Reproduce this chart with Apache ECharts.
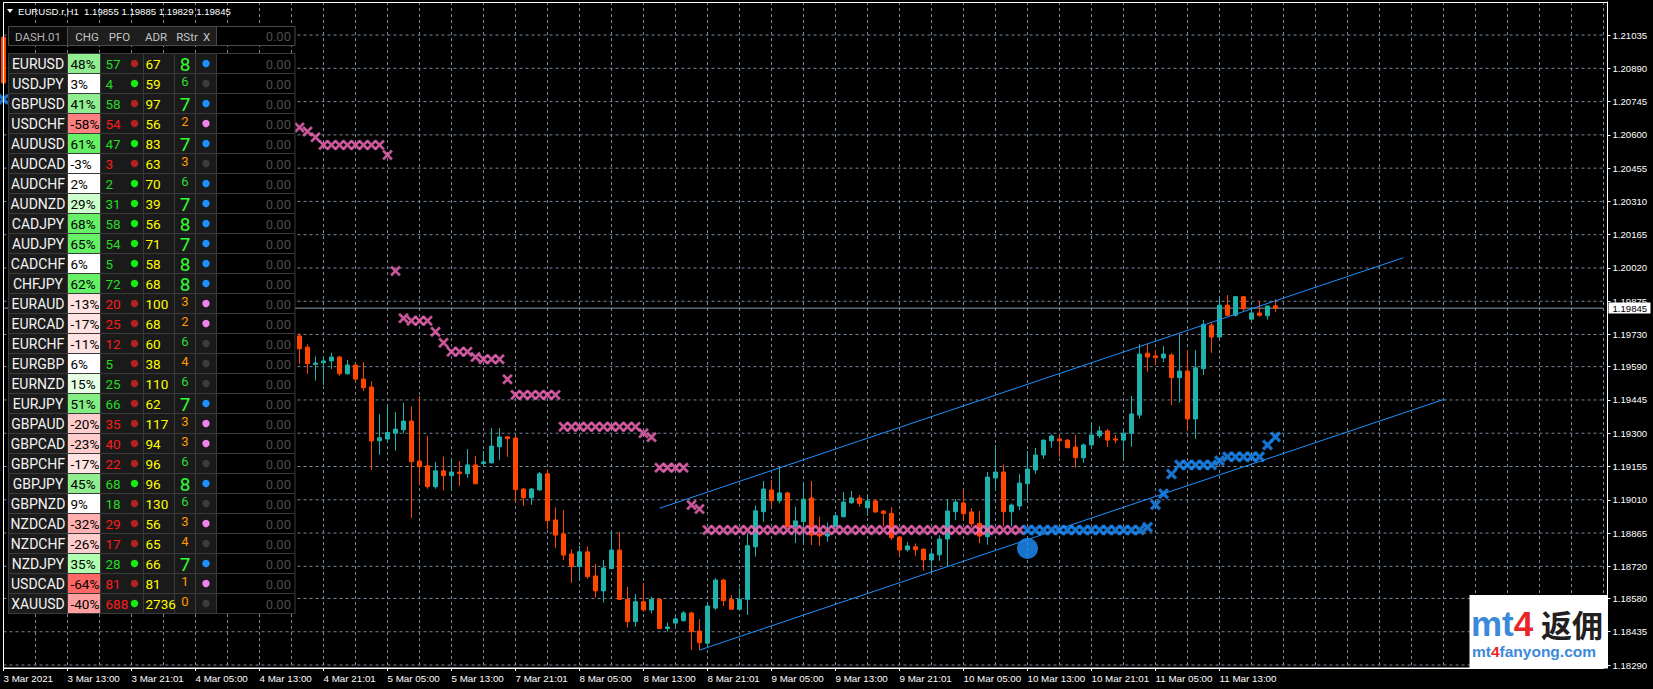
<!DOCTYPE html>
<html><head><meta charset="utf-8">
<script src="https://cdn.jsdelivr.net/npm/echarts@6/dist/echarts.min.js"></script>
<style>html,body{margin:0;padding:0;background:#000;}#c{width:1653px;height:689px;}</style>
</head><body><div id="c"></div>
<script>
// ---------------- DATA ----------------
const chartSymbol = 'EURUSD.r';
const timeframe = 'H1';
const timeLabels = ['3 Mar 2021','3 Mar 13:00','3 Mar 21:01','4 Mar 05:00','4 Mar 13:00','4 Mar 21:01','5 Mar 05:00','5 Mar 13:00','7 Mar 21:01','8 Mar 05:00','8 Mar 13:00','8 Mar 21:01','9 Mar 05:00','9 Mar 13:00','9 Mar 21:01','10 Mar 05:00','10 Mar 13:00','10 Mar 21:01','11 Mar 05:00','11 Mar 13:00'];
const priceTicks = [1.21035,1.20890,1.20745,1.20600,1.20455,1.20310,1.20165,1.20020,1.19875,1.19730,1.19590,1.19445,1.19300,1.19155,1.19010,1.18865,1.18720,1.18580,1.18435,1.18290];
const priceMin = 1.18277, priceMax = 1.21179;

// bar 0 (only its body is visible at the left edge): open, close
const leftEdgeBar = [1.21026, 1.20826];
// visible bars start at bar index 37 and run to bar 159
const firstVisibleBar = 37;
const barOpen = [1.19724,1.19675,1.19600,1.19607,1.19615,1.19632,1.19559,1.19597,1.19536,1.19501,1.19267,1.19275,1.19300,1.19315,1.19353,1.19179,1.19158,1.19067,1.19136,1.19115,1.19131,1.19124,1.19162,1.19168,1.19171,1.19241,1.19284,1.19279,1.19057,1.19019,1.19053,1.19123,1.18922,1.18862,1.18774,1.18719,1.18783,1.18678,1.18613,1.18710,1.18791,1.18576,1.18479,1.18566,1.18530,1.18576,1.18449,1.18473,1.18483,1.18517,1.18438,1.18385,1.18538,1.18660,1.18576,1.18533,1.18576,1.18805,1.18958,1.19053,1.19006,1.19040,1.18893,1.18915,1.19018,1.18861,1.18852,1.18893,1.18936,1.18997,1.19018,1.18975,1.19005,1.18961,1.18951,1.18848,1.18792,1.18805,1.18795,1.18748,1.18770,1.18839,1.18958,1.18996,1.18957,1.18907,1.18849,1.19105,1.19131,1.18958,1.18983,1.19080,1.19140,1.19205,1.19267,1.19275,1.19270,1.19240,1.19193,1.19249,1.19289,1.19310,1.19275,1.19270,1.19300,1.19379,1.19649,1.19637,1.19628,1.19641,1.19542,1.19571,1.19362,1.19581,1.19771,1.19719,1.19858,1.19814,1.19895,1.19797,1.19824,1.19812,1.19855];
const barHigh = [1.19736,1.19688,1.19634,1.19637,1.19651,1.19637,1.19619,1.19600,1.19610,1.19527,1.19384,1.19427,1.19392,1.19433,1.19416,1.19462,1.19288,1.19175,1.19198,1.19192,1.19179,1.19231,1.19201,1.19223,1.19323,1.19323,1.19288,1.19284,1.19060,1.19062,1.19131,1.19143,1.18977,1.18965,1.18795,1.18809,1.18805,1.18730,1.18748,1.18878,1.18870,1.18630,1.18599,1.18647,1.18587,1.18580,1.18475,1.18498,1.18525,1.18522,1.18490,1.18559,1.18669,1.18666,1.18595,1.18626,1.18864,1.18985,1.19092,1.19096,1.19154,1.19045,1.18980,1.19088,1.19092,1.18936,1.18911,1.18953,1.19044,1.19048,1.19031,1.19031,1.19013,1.18965,1.18978,1.18850,1.18827,1.18820,1.18798,1.18798,1.18856,1.19013,1.19013,1.19053,1.18974,1.18961,1.19131,1.19249,1.19164,1.18994,1.19122,1.19223,1.19236,1.19272,1.19295,1.19295,1.19275,1.19292,1.19256,1.19346,1.19331,1.19317,1.19292,1.19321,1.19462,1.19688,1.19688,1.19663,1.19680,1.19649,1.19732,1.19663,1.19663,1.19793,1.19784,1.19894,1.19902,1.19898,1.19898,1.19851,1.19876,1.19856,1.19885];
const barLow = [1.19602,1.19559,1.19529,1.19510,1.19580,1.19550,1.19555,1.19525,1.19484,1.19140,1.19206,1.19258,1.19224,1.19300,1.18930,1.19075,1.19058,1.19058,1.19050,1.19050,1.19071,1.19106,1.19078,1.19158,1.19168,1.19184,1.19197,1.19002,1.18984,1.18988,1.19050,1.18883,1.18800,1.18748,1.18648,1.18656,1.18666,1.18584,1.18562,1.18708,1.18574,1.18453,1.18457,1.18522,1.18515,1.18446,1.18436,1.18451,1.18480,1.18355,1.18355,1.18370,1.18530,1.18547,1.18530,1.18527,1.18508,1.18762,1.18914,1.18974,1.18994,1.18890,1.18821,1.18821,1.18813,1.18810,1.18827,1.18890,1.18933,1.18992,1.18979,1.18940,1.18953,1.18893,1.18835,1.18762,1.18784,1.18766,1.18701,1.18690,1.18744,1.18719,1.18922,1.18922,1.18893,1.18821,1.18814,1.19048,1.18893,1.18893,1.18965,1.19009,1.19122,1.19188,1.19237,1.19197,1.19234,1.19150,1.19171,1.19233,1.19279,1.19240,1.19256,1.19184,1.19241,1.19363,1.19568,1.19597,1.19610,1.19423,1.19433,1.19310,1.19275,1.19554,1.19650,1.19716,1.19811,1.19808,1.19833,1.19795,1.19808,1.19795,1.19829];
const barClose = [1.19668,1.19603,1.19606,1.19615,1.19632,1.19559,1.19597,1.19536,1.19498,1.19266,1.19280,1.19303,1.19318,1.19353,1.19176,1.19154,1.19067,1.19136,1.19115,1.19131,1.19124,1.19162,1.19080,1.19175,1.19244,1.19284,1.19277,1.19054,1.19019,1.19057,1.19123,1.18919,1.18856,1.18769,1.18719,1.18783,1.18675,1.18613,1.18713,1.18791,1.18576,1.18479,1.18566,1.18530,1.18576,1.18449,1.18456,1.18491,1.18517,1.18436,1.18387,1.18547,1.18660,1.18570,1.18533,1.18576,1.18810,1.18962,1.19057,1.19006,1.19040,1.18893,1.18918,1.19013,1.18856,1.18852,1.18861,1.18940,1.19000,1.19018,1.18994,1.19005,1.18957,1.18951,1.18845,1.18791,1.18809,1.18792,1.18748,1.18774,1.18839,1.18961,1.19000,1.18949,1.18905,1.18852,1.19109,1.19131,1.18958,1.18987,1.19083,1.19144,1.19205,1.19270,1.19288,1.19267,1.19237,1.19193,1.19249,1.19292,1.19310,1.19270,1.19270,1.19300,1.19384,1.19645,1.19632,1.19629,1.19645,1.19542,1.19571,1.19362,1.19585,1.19774,1.19719,1.19858,1.19814,1.19895,1.19842,1.19824,1.19814,1.19854,1.19845];

// indicator markers
const pinkBars   = [37,38,39,40,41,42,43,44,45,46,47,48,49,50,51,52,53,54,55,56,57,58,59,60,61,62,63,64,65,66,67,68,69,70,71,72,73,74,75,76,77,78,79,80,81,82,83,84,85,86,87,88,89,90,91,92,93,94,95,96,97,98,99,100,101,102,103,104,105,106,107,108,109,110,111,112,113,114,115,116,117,118,119,120,121,122,123,124,125,126,127];
const pinkPrices = [1.20632,1.20615,1.20590,1.20556,1.20556,1.20556,1.20556,1.20556,1.20556,1.20556,1.20556,1.20512,1.20007,1.19801,1.19790,1.19790,1.19790,1.19742,1.19694,1.19655,1.19655,1.19655,1.19632,1.19622,1.19622,1.19622,1.19535,1.19467,1.19467,1.19467,1.19467,1.19467,1.19467,1.19328,1.19328,1.19328,1.19328,1.19328,1.19328,1.19328,1.19328,1.19328,1.19328,1.19300,1.19283,1.19150,1.19150,1.19150,1.19150,1.18987,1.18970,1.18878,1.18878,1.18878,1.18878,1.18878,1.18878,1.18878,1.18878,1.18878,1.18878,1.18878,1.18878,1.18878,1.18878,1.18878,1.18878,1.18878,1.18878,1.18878,1.18878,1.18878,1.18878,1.18878,1.18878,1.18878,1.18878,1.18878,1.18878,1.18878,1.18878,1.18878,1.18878,1.18878,1.18878,1.18878,1.18878,1.18878,1.18878,1.18878,1.18878];
const blueBars   = [0,128,129,130,131,132,133,134,135,136,137,138,139,140,141,142,143,144,145,146,147,148,149,150,151,152,153,154,155,156,157,158,159];
const bluePrices = [1.20755,1.18878,1.18878,1.18878,1.18878,1.18878,1.18878,1.18878,1.18878,1.18878,1.18878,1.18878,1.18878,1.18878,1.18878,1.18878,1.18890,1.18988,1.19036,1.19122,1.19162,1.19162,1.19162,1.19162,1.19162,1.19180,1.19197,1.19197,1.19197,1.19197,1.19197,1.19249,1.19284];
const signalDot = [128, 1.18798];
const channelUpper = [[82, 1.18973], [175, 1.20065]];
const channelLower = [[87, 1.18355], [180, 1.19447]];

// dashboard
const dashName = 'DASH.01';
const dashHeaders = ['CHG','PFO','ADR','RStr','X'];
const symbols = ['EURUSD','USDJPY','GBPUSD','USDCHF','AUDUSD','AUDCAD','AUDCHF','AUDNZD','CADJPY','AUDJPY','CADCHF','CHFJPY','EURAUD','EURCAD','EURCHF','EURGBP','EURNZD','EURJPY','GBPAUD','GBPCAD','GBPCHF','GBPJPY','GBPNZD','NZDCAD','NZDCHF','NZDJPY','USDCAD','XAUUSD'];
const chgPct = [48,3,41,-58,61,-3,2,29,68,65,6,62,-13,-17,-11,6,15,51,-20,-23,-17,45,9,-32,-26,35,-64,-40];
const pfo = [57,4,58,54,47,3,2,31,58,54,5,72,20,25,12,5,25,66,35,40,22,68,18,29,17,28,81,688];
const pfoSignal = ['dn','up','dn','dn','up','dn','up','up','up','up','up','up','dn','dn','dn','dn','dn','dn','dn','dn','dn','up','dn','dn','dn','up','dn','up'];
const adr = [67,59,97,56,83,63,70,39,56,71,58,68,100,68,60,38,110,62,117,94,96,96,130,56,65,66,81,2736];
const rstr = [8,6,7,2,7,3,6,7,8,7,8,8,3,2,6,4,6,7,3,3,6,8,6,3,4,7,1,0];
const xState = ['up','flat','up','down','up','flat','up','up','up','up','up','up','down','down','flat','flat','flat','up','down','down','flat','up','flat','down','flat','up','down','flat'];
const pnl = [0,0,0,0,0,0,0,0,0,0,0,0,0,0,0,0,0,0,0,0,0,0,0,0,0,0,0,0];
const headerPnl = 0;

// ---------------- BUILD ----------------
const slotCount = 201;
const categories = Array.from({length: slotCount}, (_, i) => String(i));
const lastSlot = slotCount - 1;
const lastIdx = firstVisibleBar + barClose.length - 1;
const candleData = categories.map((_, i) => {
  if (i === 0) return [leftEdgeBar[0], leftEdgeBar[1], leftEdgeBar[1], leftEdgeBar[0]];
  if (i >= firstVisibleBar && i <= lastIdx) {
    const k = i - firstVisibleBar;
    return [barOpen[k], barClose[k], barLow[k], barHigh[k]];
  }
  return '-';
});
const lastClose = barClose[barClose.length - 1];
const lastO = barOpen[barOpen.length-1], lastH = barHigh[barHigh.length-1], lastL = barLow[barLow.length-1];

const xPath = 'path://M0,1.7 L1.7,0 L5,3.3 L8.3,0 L10,1.7 L6.7,5 L10,8.3 L8.3,10 L5,6.7 L1.7,10 L0,8.3 L3.3,5 Z';
const xPathBold = 'path://M0,2 L2,0 L5,3 L8,0 L10,2 L7,5 L10,8 L8,10 L5,7 L2,10 L0,8 L3,5 Z';
const GRID = '#778899';

const upPalette = ['#ffffff','#e4ffe4','#ccffcc','#b0ffb0','#90ee90','#84ee84','#66f066','#55ee55'];
const dnPalette = ['#ffffff','#ffe2e2','#ffcccc','#ffb0b0','#ffa0a0','#ff8080','#ff6666','#ff5555'];
function chgColor(v){ const lv = Math.min(7, Math.floor(Math.abs(v)/10)); return v >= 0 ? upPalette[lv] : dnPalette[lv]; }

const dash = [];
const Z = 50;
function rect(x,y,w,h,fill,stroke){ dash.push({type:'rect', silent:true, z:Z, shape:{x,y,width:w,height:h}, style:{fill, stroke: stroke || '#3a3a3a', lineWidth:1}}); }
function txt(x,y,text,fill,size,align,family){ dash.push({type:'text', silent:true, z:Z+2, x, y, style:{text, fill, fontSize:size, fontFamily: family || 'Roboto', align: align || 'left', verticalAlign:'middle'}}); }
function dot(cx,cy,r,fill){ dash.push({type:'circle', silent:true, z:Z+1, shape:{cx,cy,r}, style:{fill}}); }

// header
rect(8.5,26.5,59,19,'#0c0c0c','#4a4a4a');
rect(67.5,26.5,149,19,'#1e1e1e','#4a4a4a');
rect(216.5,26.5,78.5,19,'#000000','#4a4a4a');
txt(38,36.5,dashName,'#b4b4b4',11.5,'center');
const hx = [87,119.5,156,187,206.5];
dashHeaders.forEach((h,j)=>txt(hx[j],36.5,h,'#c4c4c4',11.5,'center'));
txt(291,36.5,headerPnl.toFixed(2),'#4d4d4d',13,'right');

symbols.forEach((s,k)=>{
  const y = 53.5 + 20*k, cy = y + 10;
  rect(8.5,y,59,20,'#1c1c1c');
  txt(38,cy+0.5,s,'#f4f4f4',14,'center');
  rect(67.5,y,33,20,chgColor(chgPct[k]));
  txt(70.5,cy+0.5,chgPct[k]+'%','#000000',13.5,'left');
  rect(100.5,y,43,20,'#1a1a1a');
  txt(105.5,cy+0.5,String(pfo[k]), chgPct[k] >= 0 ? '#22dd22' : '#ff1a1a', 13.5);
  dot(134.5,cy,3.7, pfoSignal[k]==='up' ? '#11ee11' : '#b22222');
  rect(143.5,y,31,20,'#1a1a1a');
  txt(145.5,cy+0.5,String(adr[k]),'#ffff00',13.5);
  rect(174.5,y,21,20,'#1a1a1a');
  const big = rstr[k] >= 7;
  const rc = rstr[k] >= 6 ? (big ? '#33ff33' : '#33dd33') : '#ff9a00';
  txt(185, big ? cy+1 : cy-2, String(rstr[k]), rc, big ? 19 : 13, 'center');
  rect(195.5,y,21,20,'#1a1a1a');
  dot(206,cy,3.7, xState[k]==='up' ? '#1e90ff' : (xState[k]==='down' ? '#ee82ee' : '#3c3c3c'));
  rect(216.5,y,78.5,20,'#000000');
  txt(291,cy+0.5,pnl[k].toFixed(2),'#4d4d4d',13,'right');
});

const titleText = chartSymbol + ',' + timeframe + '  ' + [lastO,lastH,lastL,lastClose].map(v=>v.toFixed(5)).join(' ');
const graphics = [
  {type:'rect', silent:true, z:40, shape:{x:3.5,y:2.5,width:1604,height:665.5}, style:{fill:'none', stroke:'#ffffff', lineWidth:1}},
  {type:'polygon', silent:true, z:60, shape:{points:[[7,9],[13,9],[10,13]]}, style:{fill:'#ffffff'}},
  {type:'text', silent:true, z:60, x:18, y:11.5, style:{text:titleText, fill:'#ffffff', fontSize:9.6, fontFamily:'Liberation Sans', verticalAlign:'middle'}},
  {type:'rect', silent:true, z:60, shape:{x:1469.5,y:595,width:137.5,height:73}, style:{fill:'#ffffff'}},
  {type:'text', silent:true, z:61, x:1471, y:623, style:{text:'{a|mt}{b|4}', verticalAlign:'middle', rich:{a:{fill:'#3b8ad9',fontSize:35,fontWeight:'bold',fontFamily:'Liberation Sans'}, b:{fill:'#e8262a',fontSize:35,fontWeight:'bold',fontFamily:'Liberation Sans'}}}},
  {type:'text', silent:true, z:61, x:1541, y:623, style:{text:'返佣', fill:'#231f20', fontSize:31, fontWeight:'bold', fontFamily:'Noto Sans CJK SC', verticalAlign:'middle'}},
  {type:'text', silent:true, z:61, x:1472, y:651, style:{text:'{a|mt}{b|4}{a|fanyong.com}', verticalAlign:'middle', rich:{a:{fill:'#3b8ad9',fontSize:15.5,fontWeight:'bold',fontFamily:'Liberation Sans'}, b:{fill:'#e8262a',fontSize:15.5,fontWeight:'bold',fontFamily:'Liberation Sans'}}}}
].concat(dash);

const gridSeries = priceTicks.map(v => ({
  type:'line', data:[[0, v], [lastSlot, v]], symbol:'none', silent:true, z:1,
  lineStyle:{color:GRID, type:[3,3], width:1}
}));
const priceLineSeries = {type:'line', data:[[0, lastClose], [lastSlot, lastClose]], symbol:'none', silent:true, z:1,
  lineStyle:{color:'#8a9aaa', type:'solid', width:1}};

const chart = echarts.init(document.getElementById('c'), null, {renderer:'svg'});
chart.setOption({
  backgroundColor:'#000000',
  animation:false,
  grid:{left:3.5, right:49.5, top:2, bottom:21, containLabel:false},
  xAxis:{
    type:'category', data:categories, boundaryGap:false,
    axisLine:{show:true, lineStyle:{color:'#ffffff', width:1}},
    axisTick:{show:true, length:3, interval:(i)=> i%8===0 && i/8 < timeLabels.length, lineStyle:{color:'#ffffff'}},
    axisLabel:{show:true, interval:(i)=> i%8===0 && i/8 < timeLabels.length, formatter:(v,i)=> timeLabels[i/8] || '', color:'#ffffff', fontSize:9.8, fontFamily:'Liberation Sans', align:'left', margin:5},
    splitLine:{show:true, interval:(i)=> i%4===0, lineStyle:{color:GRID, type:[3,3], width:1}}
  },
  yAxis:{
    type:'value', position:'right', offset:4, min:priceMin, max:priceMax, scale:true,
    axisLine:{show:true, lineStyle:{color:'#ffffff', width:1}},
    axisTick:{show:true, length:3, customValues:priceTicks, lineStyle:{color:'#ffffff'}},
    axisLabel:{show:true, customValues:priceTicks, formatter:(v)=>v.toFixed(5), color:'#ffffff', fontSize:9.6, fontFamily:'Liberation Sans', margin:5},
    splitLine:{show:false}
  },
  series: gridSeries.concat([
    priceLineSeries,
    {type:'candlestick', data:candleData, z:3, barWidth:5, silent:true,
      itemStyle:{color:'#20b2aa', color0:'#ff4500', borderColor:'#20b2aa', borderColor0:'#ff4500', borderWidth:1}},
    {type:'line', data:channelUpper, z:4, symbol:'none', silent:true, lineStyle:{color:'#1e90ff', width:1}},
    {type:'line', data:channelLower, z:4, symbol:'none', silent:true, lineStyle:{color:'#1e90ff', width:1}},
    {type:'scatter', data:pinkBars.map((b,j)=>[b,pinkPrices[j]]), z:5, silent:true, symbol:xPath, symbolSize:10.5,
      itemStyle:{color:'#ff6eb4', borderColor:'#b050d0', borderWidth:0.4}},
    {type:'scatter', data:blueBars.map((b,j)=>[b,bluePrices[j]]), z:5, silent:true, symbol:xPathBold, symbolSize:11,
      itemStyle:{color:'#1e90ff', borderColor:'#1e80ee', borderWidth:0.3}},
    {type:'scatter', data:[signalDot], z:6, silent:true, symbol:'circle', symbolSize:21, itemStyle:{color:'#1e90ff'}}
  ]),
  graphic:{elements:graphics}
});

// current-price tag on the price axis, positioned through the chart's own y scale
const py = chart.convertToPixel({yAxisIndex:0}, lastClose);
const axisX = chart.convertToPixel({xAxisIndex:0}, lastSlot) + 4;
chart.setOption({graphic:{elements: graphics.concat([
  {type:'rect', silent:true, z:70, shape:{x:axisX+1, y:Math.round(py)-5.5, width:42, height:11}, style:{fill:'#ffffff'}},
  {type:'text', silent:true, z:71, x:axisX+5, y:Math.round(py)+0.5, style:{text:lastClose.toFixed(5), fill:'#000000', fontSize:9.6, fontFamily:'Liberation Sans', verticalAlign:'middle'}}
])}});
</script>
</body></html>
